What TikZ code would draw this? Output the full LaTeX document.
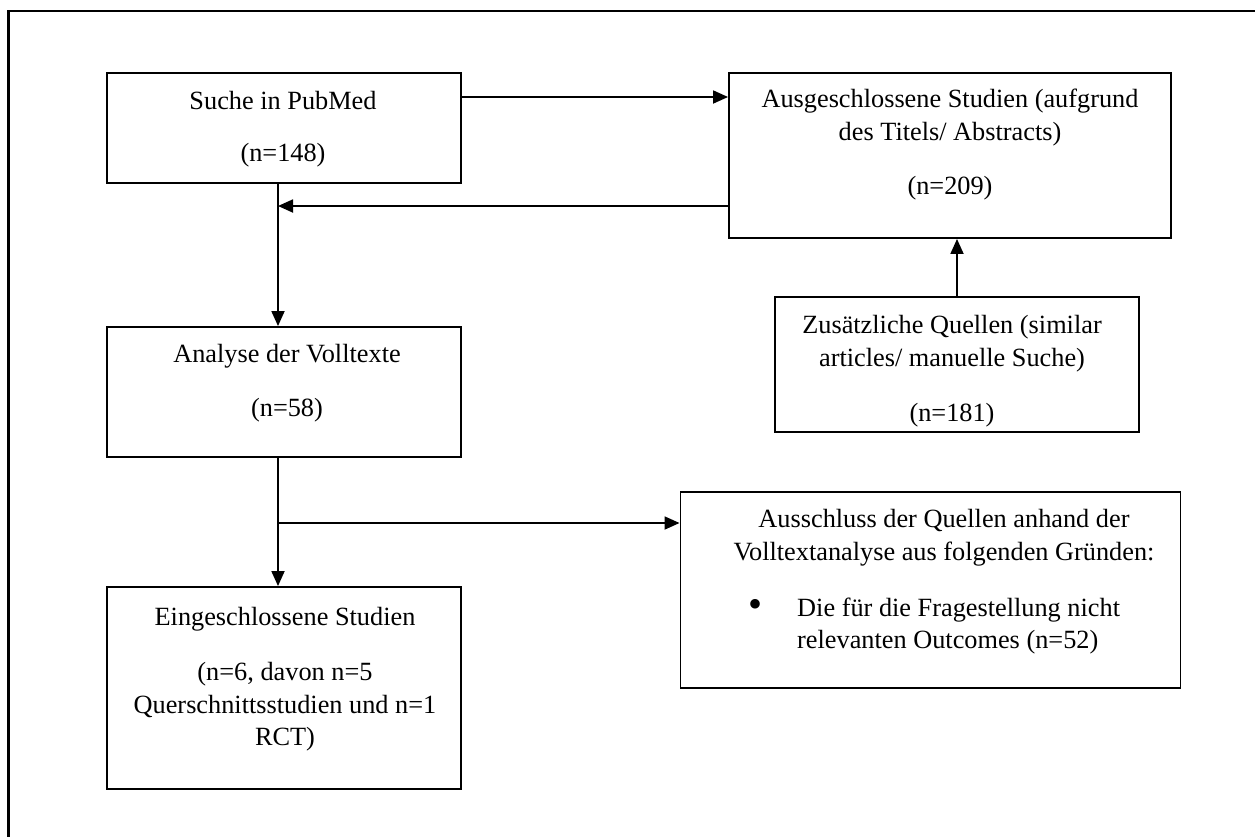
\documentclass[tikz,border=0pt]{standalone}
\usepackage{fontspec}
\setmainfont{Liberation Serif}
\usetikzlibrary{arrows.meta}
\begin{document}
\begin{tikzpicture}[x=1pt,y=-1pt,
  box/.style={draw=black, line width=1.9pt, inner sep=0pt},
  txt/.style={inner sep=0pt, anchor=base, font=\fontsize{26.3pt}{33pt}\selectfont},
  txtw/.style={txt, anchor=base west},
  bullet/.style={inner sep=0pt, anchor=center, font=\fontsize{40pt}{40pt}\selectfont},
  arr/.style={line width=1.8pt, -{Triangle[length=15pt,width=13pt]}},
  frame/.style={line width=2.2pt}]
\useasboundingbox (0,0) rectangle (1255,836);
% outer frame (continues past the picture)
\draw[frame] (8.5,840) -- (8.5,11) -- (1260,11);

% boxes
\node[box, minimum width=354pt, minimum height=110pt] (a) at (284,128) {};
\node[box, minimum width=442pt, minimum height=165pt] (b) at (950,155.5) {};
\node[box, minimum width=354pt, minimum height=130pt] (c) at (284,392) {};
\node[box, minimum width=354pt, minimum height=202pt] (d) at (284,688) {};
\node[box, minimum width=500pt, minimum height=196pt] (e) at (930.5,590) {};
\node[box, minimum width=364pt, minimum height=135pt] (f) at (957,364.5) {};

% texts
\node[txt] (a1) at (283,109) {Suche in PubMed};
\node[txt] (a2) at (283,161) {(n=148)};
\node[txt] (b1) at (950,107) {Ausgeschlossene Studien (aufgrund};
\node[txt] (b2) at (950,140) {des Titels/ Abstracts)};
\node[txt] (b3) at (950,194) {(n=209)};
\node[txt] (c1) at (287,362) {Analyse der Volltexte};
\node[txt] (c2) at (287,416) {(n=58)};
\node[txt] (d1) at (285,625) {Eingeschlossene Studien};
\node[txt] (d2) at (285,680) {(n=6, davon n=5};
\node[txt] (d3) at (285,713) {Querschnittsstudien und n=1};
\node[txt] (d4) at (285,745) {RCT)};
\node[txt] (f1) at (952,333) {Zusätzliche Quellen (similar};
\node[txt] (f2) at (952,366) {articles/ manuelle Suche)};
\node[txt] (f3) at (952,421) {(n=181)};
\node[txt] (e1) at (944,527) {Ausschluss der Quellen anhand der};
\node[txt] (e2) at (944,560) {Volltextanalyse aus folgenden Gründen:};
\node[bullet] (e3) at (755.5,608) {•};
\node[txtw] (e4) at (797,616) {Die für die Fragestellung nicht};
\node[txtw] (e5) at (797,648) {relevanten Outcomes (n=52)};

% trunk line position
\coordinate (t) at (278,0);
\coordinate (br) at (278,523);

% connectors
\draw[arr] ([yshift=31pt]a.east) -- ([yshift=31pt]a.east -| b.west);
\draw[arr] ([yshift=-50.5pt]b.west) -- ([yshift=-50.5pt]b.west -| t);
\draw[arr] (a.south -| t) -- (c.north -| t);
\draw[arr] (c.south -| t) -- (d.north -| t);
\draw[arr] (br) -- (br -| e.west);
\draw[arr] (f.north) -- (f.north |- b.south);
\end{tikzpicture}
\end{document}
